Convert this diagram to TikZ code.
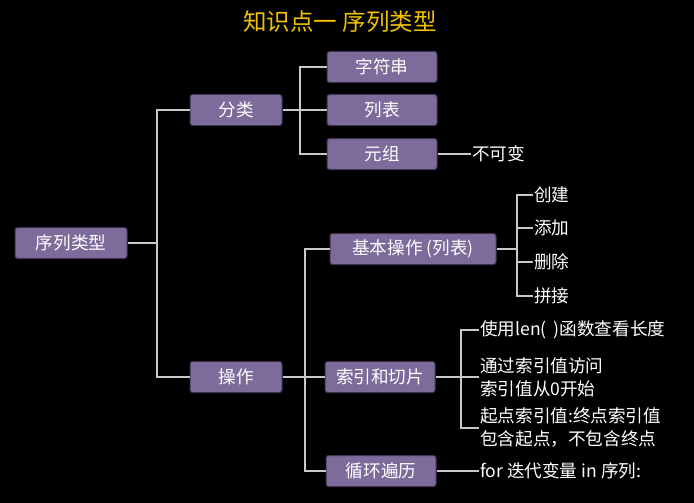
\documentclass[tikz,border=0pt]{standalone}
\usepackage{fontspec}
\setmainfont{Noto Sans CJK SC}
\usepackage{tikz}
\usetikzlibrary{arrows.meta,calc,positioning}
\definecolor{mapbg}{HTML}{000000}
\definecolor{boxpurple}{HTML}{7D6B9B}
\definecolor{boxedge}{HTML}{3E3450}
\definecolor{linkgray}{HTML}{C8C8C8}
\definecolor{titleyellow}{HTML}{F2C200}
\newcommand{\mapfont}{\fontsize{17.6}{23}\selectfont}

\begin{document}
\begin{tikzpicture}[x=1pt,y=-1pt,
  topic/.style={draw=boxedge,line width=1pt,fill=boxpurple,rounded corners=2.5pt,
    text=white,font=\mapfont,minimum height=31pt,inner sep=0pt},
  leaf/.style={anchor=west,text=white,font=\mapfont,align=left,inner sep=1pt},
  link/.style={linkgray,line width=1.4pt}]
  \fill[mapbg] (0,0) rectangle (694,503);
  \useasboundingbox (0,0) rectangle (694,503);
  \node[text=titleyellow,font=\fontsize{23.5}{26}\selectfont] (title) at (340,22) {知识点一 序列类型};
  % root and main branches
  \node[topic,minimum width=112pt] (root) at (71,243) {序列类型};
  \node[topic,minimum width=92pt] (fl) at (236,110) {分类};
  \node[topic,minimum width=92pt] (cz) at (236,377) {操作};
  \coordinate (j1) at (157,243);
  \draw[link] (root.east) -- (j1);
  \draw[link] (fl.west) -| (j1) |- (cz.west);
  % 分类
  \node[topic,minimum width=110pt] (zfc) at (382,67) {字符串};
  \node[topic,minimum width=110pt] (lb) at (382,110) {列表};
  \node[topic,minimum width=110pt] (yz) at (382,154) {元组};
  \node[leaf] (bkb) at (471,154) {不可变};
  \coordinate (j2) at (300,110);
  \draw[link] (fl.east) -- (lb.west);
  \draw[link] (zfc.west) -| (j2) |- (yz.west);
  \draw[link] (yz.east) -- (bkb.west);
  % 操作
  \node[topic,minimum width=166pt] (jb) at (413,249) {基本操作 (列表)};
  \node[topic,minimum width=110pt] (sy) at (380,377) {索引和切片};
  \node[topic,minimum width=110pt] (xh) at (381,471) {循环遍历};
  \coordinate (j3) at (305,377);
  \draw[link] (cz.east) -- (sy.west);
  \draw[link] (jb.west) -| (j3) |- (xh.west);
  % 基本操作
  \coordinate (j4) at (517,249);
  \foreach \n/\t/\y in {cj/创建/195,tj/添加/228,sc/删除/262,pj/拼接/296}{
    \node[leaf] (\n) at (533,\y) {\t};
    \draw[link] (\n.west) -| (j4);
  }
  \draw[link] (jb.east) -- (j4);
  % 索引和切片
  \node[leaf] (t1) at (479,330) {使用len(\ \,)函数查看长度};
  \node[leaf] (t2) at (479,377) {通过索引值访问\\索引值从0开始};
  \node[leaf] (t3) at (479,428) {起点索引值:终点索引值\\包含起点，不包含终点};
  \coordinate (j5) at (461,377);
  \draw[link] (sy.east) -- (t2.west);
  \draw[link] (t1.west) -| (j5) |- (t3.west);
  % 循环遍历
  \node[leaf] (fr) at (479,471) {for 迭代变量 in 序列:};
  \draw[link] (xh.east) -- (fr.west);
\end{tikzpicture}
\end{document}
